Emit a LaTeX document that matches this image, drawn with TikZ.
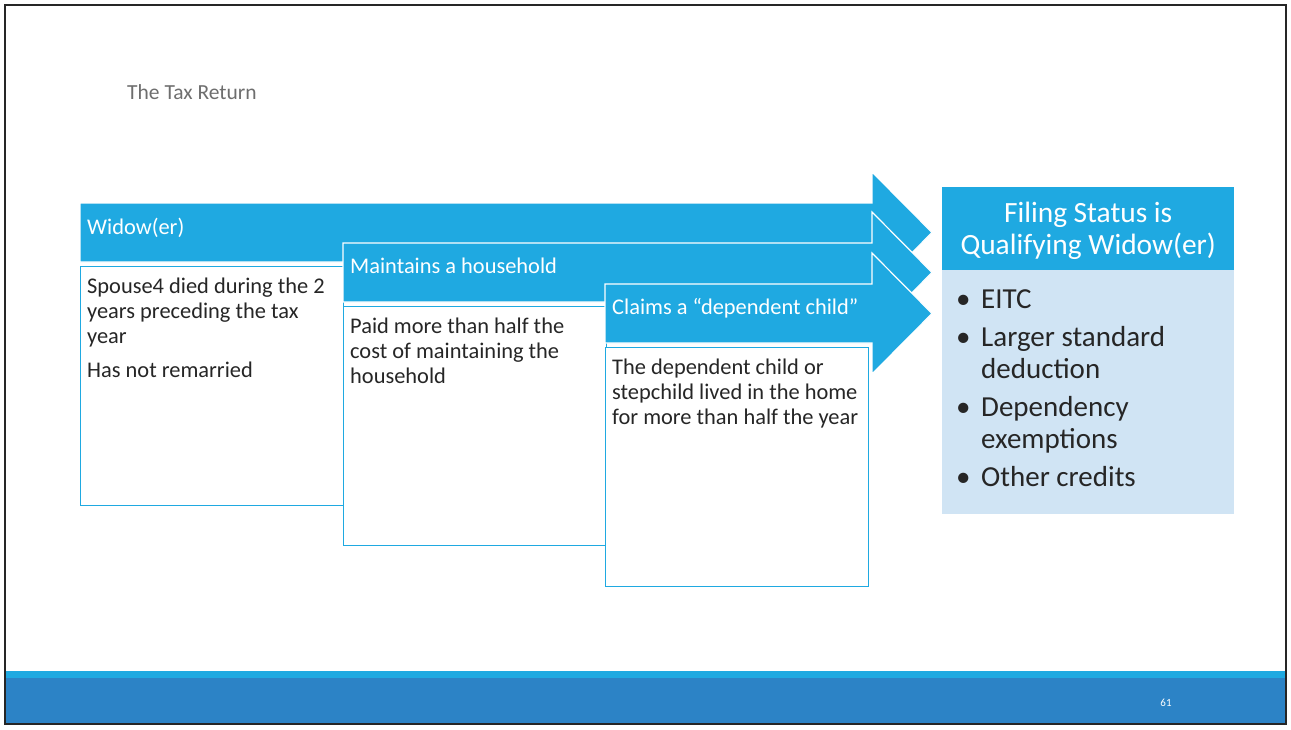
\documentclass[tikz,border=0pt]{standalone}
\usepackage{fontspec}
\setmainfont{Carlito}
\usetikzlibrary{calc}
\definecolor{stepblue}{RGB}{31,169,225}
\definecolor{barblue}{RGB}{44,131,198}
\definecolor{paleblue}{RGB}{208,228,244}
\definecolor{titlegray}{RGB}{110,110,110}
\definecolor{bodytext}{RGB}{38,38,38}
\tikzstyle{stepbar}=[fill=stepblue, draw=white, line width=1.2pt, line join=miter]
\tikzstyle{stepbox}=[rectangle, fill=white, draw=stepblue, line width=1pt, inner sep=0pt, anchor=north west, minimum width=263pt, minimum height=239pt]
\tikzstyle{steplbl}=[anchor=north west, inner sep=0pt, text=white, font=\fontsize{22.4}{25}\selectfont]
\tikzstyle{steptxt}=[anchor=north west, inner sep=0pt, align=left, text=bodytext, font=\fontsize{22.4}{25}\selectfont]
\tikzstyle{annot}=[inner sep=0pt]
\newcommand{\drawstep}[5]
{
  % arrow with its label, then the box under it
  \draw[stepbar] (#2,#3) -- (872,#3) -- (872,{#3-31}) -- (932,{#3+29.5}) -- (872,{#3+90}) -- (872,{#3+59}) -- (#2,{#3+59}) -- cycle;
  \node[steplbl] (#1lbl) at ({#2+7},{#3+14.5}) {#4};
  \node[stepbox] (#1box) at (#2,{#3+63}) {};
  \node[steptxt] (#1txt) at ($(#1box.north west)+(7,11.5)$) {#5};
}

\begin{document}
\begin{tikzpicture}[x=1pt,y=-1pt]
	\useasboundingbox (0,0) rectangle (1291,729);

	\node[annot, anchor=west, text=titlegray, font=\fontsize{21.5}{26}\selectfont] (title) at (127,92) {The Tax Return};

	\drawstep{widow}{80}{203}{Widow(er)}{Spouse4 died during the 2\\years preceding the tax\\year\\[9pt]Has not remarried}
	\drawstep{house}{343}{243}{Maintains a household}{Paid more than half the\\cost of maintaining the\\household}
	\drawstep{child}{605}{284}{Claims a ``dependent child''}{The dependent child or\\stepchild lived in the home\\for more than half the year}

	% filing status result
	\node[annot, fill=stepblue, minimum width=292pt, minimum height=83pt, anchor=north west] (statushead) at (942,187) {};
	\node[annot, fill=paleblue, minimum width=292pt, minimum height=244pt, anchor=north west] (perksbox) at (942,270) {};
	\node[annot, align=center, text=white, font=\fontsize{29.4}{32}\selectfont] (statustxt) at ($(statushead.center)+(0,2)$) {Filing Status is\\Qualifying Widow(er)};
	\node[annot, anchor=north west, align=left, text=bodytext, font=\fontsize{29}{32}\selectfont] (perkstxt) at (956,289) {%
		\makebox[25pt][l]{\textbullet}EITC\\[6pt]
		\makebox[25pt][l]{\textbullet}Larger standard\\
		\hspace*{25pt}deduction\\[6pt]
		\makebox[25pt][l]{\textbullet}Dependency\\
		\hspace*{25pt}exemptions\\[6pt]
		\makebox[25pt][l]{\textbullet}Other credits};

	% footer bars and frame
	\fill[stepblue] (5,670.5) rectangle (1286,677.5);
	\fill[barblue] (5,677.5) rectangle (1286,724);
	\node[annot, text=white, font=\fontsize{11}{13}\selectfont] (pagenum) at (1166,703) {61};
	\draw[line width=2pt, draw=black!85] (5,5) rectangle (1286,724);

\end{tikzpicture}
\end{document}
